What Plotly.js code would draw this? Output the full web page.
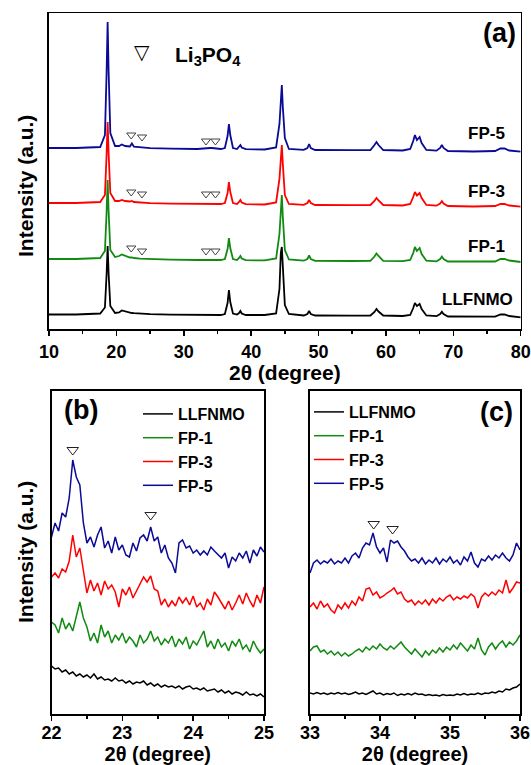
<!DOCTYPE html>
<html>
<head>
<meta charset="utf-8">
<script src="https://cdn.plot.ly/plotly-3.0.1.min.js"></script>
<style>html,body{margin:0;padding:0;background:#fff;}#chart{width:531px;height:765px;}</style>
</head>
<body>
<div id="chart"></div>
<script>
// ---------- Panel (a): full patterns, 2theta 10-80 (offset intensities, a.u.) ----------
const seriesNames = ["LLFNMO", "FP-1", "FP-3", "FP-5"];
const seriesColors = ["#000000", "#118a11", "#ff0000", "#0a0a96"];

const xA = [10, 14, 17.6, 18.3, 18.55, 18.7, 18.85, 19.1, 19.8, 20.4, 20.8, 21.3, 22.0, 22.3, 22.6, 23.5, 25, 28, 32, 33.9,
  34.2, 35.5, 36.1, 36.5, 36.7, 36.9, 37.3, 37.9, 38.2, 38.4, 38.6, 39.2, 42, 43.7, 44.2, 44.4, 44.55, 44.7, 45.0, 45.6,
  47.8, 48.35, 48.6, 48.85, 49.5, 55, 57.7, 58.3, 58.6, 58.9, 59.6, 62.5, 63.6, 64.05, 64.3, 64.6, 65.0, 65.3, 66.0, 67.5,
  68.05, 68.3, 68.55, 69.2, 73, 76.2, 77.0, 77.6, 78.3, 80];

const yA_LLFNMO = [16.5, 16.5, 17.5, 23.5, 57, 85, 57, 25, 18, 18.5, 20.5, 19.5, 18.5, 18, 17.8, 17.3, 16.8, 16.3, 16, 16,
  16, 16, 17, 28, 41, 29, 17.5, 16.5, 18, 20, 17.5, 16, 16, 17.5, 42, 78, 84, 62, 26, 17,
  15.5, 17, 20, 17, 15.5, 15.3, 15.5, 19, 22, 19.5, 15.5, 15, 16, 23, 28, 25, 27, 22, 15.5, 14.8,
  17, 19.3, 17, 14.5, 14, 14.3, 16.5, 16.5, 15, 13.7];

const yA_FP1 = [72, 72, 73, 80, 119, 151, 119, 81, 74, 75, 76.5, 75, 73.5, 73.5, 73, 72.3, 71.8, 71.3, 71, 71.3,
  71.2, 71, 72, 82, 93, 83, 72, 71, 73, 75, 72.5, 70.8, 70.6, 72.5, 97, 128, 136, 114, 81, 71.5,
  70.3, 72, 75.5, 72, 70.2, 70, 70.2, 74.5, 77.5, 75, 70.2, 69.8, 71, 78, 84, 80, 83, 77, 70.3, 69.6,
  72, 74.5, 72, 69.5, 69.2, 69.5, 72, 72, 70.5, 69];

const yA_FP3 = [128, 128, 129, 136, 177, 209, 177, 138, 130, 130, 131, 130, 129.5, 130, 129, 128.3, 127.8, 127.3, 127, 127.5,
  127.3, 127, 128, 138, 149, 139, 128, 127, 129, 131, 128.5, 126.8, 126.5, 128.5, 152, 178, 186, 167, 136, 127,
  126.2, 128, 131, 128, 126, 125.8, 126, 130, 133, 130.5, 126, 125.5, 127, 134, 139, 135.5, 138, 133, 126, 125.3,
  127.5, 130, 127.5, 125, 124.5, 125, 127, 127, 125.5, 124.3];

const yA_FP5 = [183, 183, 184, 196, 259, 309, 259, 198, 185, 185, 186.5, 185, 184.5, 187.5, 184.3, 183.5, 182.8, 182.3, 182, 183,
  183, 182, 183, 195, 207, 196, 183, 182, 184, 186, 183.5, 181.8, 181.5, 183.5, 207, 238, 246, 224, 193, 182,
  181.2, 183, 187, 183, 181, 180.8, 181, 186, 189, 186, 181, 180.5, 182, 190, 196, 191, 194, 188, 181, 180.3,
  183, 186, 183, 180, 179.5, 180, 182.5, 182.5, 180.5, 179.3];

// Li3PO4 marks in panel (a)
const triA_x = [22.2, 23.8, 33.3, 34.7];
const triA_FP1 = [83, 80, 80, 80];
const triA_FP3 = [139, 137, 137, 137];
const triA_FP5 = [196, 194, 190, 190];

// ---------- Panel (b): 2theta 22-25 ----------
const xB = [22.00, 22.05, 22.10, 22.15, 22.20, 22.25, 22.30, 22.35, 22.40, 22.45, 22.50, 22.55, 22.60, 22.65, 22.70, 22.75,
  22.80, 22.85, 22.90, 22.95, 23.00, 23.05, 23.10, 23.15, 23.20, 23.25, 23.30, 23.35, 23.40, 23.45, 23.50, 23.55,
  23.60, 23.65, 23.70, 23.75, 23.80, 23.85, 23.90, 23.95, 24.00, 24.05, 24.10, 24.15, 24.20, 24.25, 24.30, 24.35,
  24.40, 24.45, 24.50, 24.55, 24.60, 24.65, 24.70, 24.75, 24.80, 24.85, 24.90, 24.95, 25.00];

const yB_LLFNMO = [47, 44, 45, 41, 43, 39, 41, 37, 39, 36, 38, 35, 39, 34, 36, 33, 34, 32, 35, 32, 33, 30, 32, 29, 31, 30,
  32, 28, 30, 27, 29, 26, 28, 26, 27, 25, 27, 24, 26, 27, 24, 25, 23, 25, 22, 23, 24, 21, 23, 20, 22, 19, 21, 20, 18, 21,
  18, 19, 17, 19, 16];
const yB_FP1 = [91, 88, 80, 95, 84, 90, 82, 98, 111, 95, 86, 72, 80, 70, 88, 76, 82, 70, 78, 73, 80, 70, 76, 72, 66, 78,
  70, 74, 82, 72, 76, 68, 74, 70, 77, 66, 74, 69, 76, 64, 72, 68, 75, 82, 66, 72, 64, 74, 66, 70, 62, 72, 67, 74, 64, 68,
  61, 72, 65, 60, 64];
const yB_FP3 = [136, 140, 135, 144, 141, 152, 178, 156, 165, 140, 120, 133, 122, 130, 118, 132, 124, 128, 121, 106, 124,
  118, 126, 115, 122, 130, 136, 131, 137, 124, 122, 108, 114, 106, 112, 107, 116, 110, 115, 108, 117, 106, 110, 103,
  114, 108, 121, 116, 110, 104, 112, 103, 110, 118, 109, 120, 112, 106, 118, 110, 126];
const yB_FP5 = [176, 190, 182, 200, 196, 215, 253, 236, 228, 190, 170, 176, 166, 178, 186, 165, 172, 160, 176, 163, 168,
  158, 156, 170, 162, 175, 178, 172, 186, 172, 176, 160, 168, 155, 150, 140, 170, 173, 165, 167, 160, 163, 158, 162,
  158, 166, 162, 158, 155, 160, 145, 156, 152, 160, 155, 162, 150, 163, 157, 166, 161];
const triB_x = [22.3, 23.4];
const triB_y = [263, 198];

// ---------- Panel (c): 2theta 33-36 ----------
const xC = [33.00, 33.05, 33.10, 33.15, 33.20, 33.25, 33.30, 33.35, 33.40, 33.45, 33.50, 33.55, 33.60, 33.65, 33.70, 33.75,
  33.80, 33.85, 33.90, 33.95, 34.00, 34.05, 34.10, 34.15, 34.20, 34.25, 34.30, 34.35, 34.40, 34.45, 34.50, 34.55,
  34.60, 34.65, 34.70, 34.75, 34.80, 34.85, 34.90, 34.95, 35.00, 35.05, 35.10, 35.15, 35.20, 35.25, 35.30, 35.35,
  35.40, 35.45, 35.50, 35.55, 35.60, 35.65, 35.70, 35.75, 35.80, 35.85, 35.90, 35.95, 36.00];

const yC_LLFNMO = [20, 19, 20.5, 19, 20, 18.5, 20, 19, 20.5, 19, 20, 18.5, 19.5, 21, 19, 20, 18.5, 20, 22, 19, 20, 18, 19.5,
  18.5, 20, 17.5, 19, 18, 19.5, 18, 20, 18.5, 19, 17.5, 18.5, 17.5, 18, 17, 18.5, 17.5, 18, 17.5, 19, 18, 19.5, 18, 19,
  18.5, 20, 18.5, 20, 19.5, 21, 20, 22, 21, 24, 23, 25, 26, 29];
const yC_FP1 = [62, 66, 67, 61, 63, 59, 62, 58, 61, 57, 60, 57, 59, 62, 64, 61, 66, 63, 67, 64, 69, 65, 63, 67, 64, 68, 71,
  66, 62, 59, 64, 60, 56, 62, 58, 63, 60, 65, 61, 66, 63, 68, 64, 70, 66, 62, 68, 64, 75, 63, 58, 66, 70, 64, 69, 72, 66,
  71, 68, 72, 78];
const yC_FP3 = [106, 110, 104, 112, 106, 109, 103, 100, 108, 104, 110, 105, 112, 108, 116, 112, 124, 125, 118, 121, 115,
  117, 120, 122, 125, 119, 121, 114, 111, 113, 108, 112, 109, 113, 108, 114, 110, 115, 112, 116, 118, 113, 116, 114,
  117, 115, 119, 116, 105, 116, 120, 117, 121, 118, 123, 120, 133, 120, 125, 131, 130];
const yC_FP5 = [140, 150, 153, 149, 152, 150, 154, 149, 152, 150, 155, 150, 157, 160, 155, 165, 170, 168, 180, 166, 160,
  165, 151, 173, 170, 172, 166, 162, 156, 152, 154, 150, 155, 149, 153, 150, 155, 149, 154, 151, 156, 150, 153, 148,
  156, 152, 161, 150, 146, 154, 152, 157, 153, 158, 155, 160, 155, 152, 158, 170, 163];
const triC_x = [33.91, 34.18];
const triC_y = [189, 184];

// ---------- build ----------
const W = 531, H = 765;
const px = v => v / W;
const py = v => 1 - v / H;
const FONT = "Liberation Sans, Arial, Helvetica, sans-serif";

const traces = [];
const yAList = [yA_LLFNMO, yA_FP1, yA_FP3, yA_FP5];
yAList.forEach((ys, i) => traces.push({
  x: xA, y: ys, type: "scatter", mode: "lines", xaxis: "x", yaxis: "y",
  line: {color: seriesColors[i], width: 1.8}, showlegend: false, hoverinfo: "skip"
}));
[triA_FP1, triA_FP3, triA_FP5].forEach(ys => traces.push({
  x: triA_x, y: ys, type: "scatter", mode: "markers", xaxis: "x", yaxis: "y",
  marker: {symbol: "triangle-down-open", size: 8, color: "#444", line: {width: 1, color: "#444"}},
  showlegend: false, hoverinfo: "skip"
}));
const yBList = [yB_LLFNMO, yB_FP1, yB_FP3, yB_FP5];
yBList.forEach((ys, i) => traces.push({
  x: xB, y: ys, type: "scatter", mode: "lines", xaxis: "x2", yaxis: "y2", name: seriesNames[i],
  line: {color: seriesColors[i], width: 1.5}, legend: "legend", showlegend: true, hoverinfo: "skip"
}));
traces.push({x: triB_x, y: triB_y, type: "scatter", mode: "markers", xaxis: "x2", yaxis: "y2",
  marker: {symbol: "triangle-down-open", size: 10, color: "#222", line: {width: 1, color: "#222"}},
  showlegend: false, hoverinfo: "skip"});
const yCList = [yC_LLFNMO, yC_FP1, yC_FP3, yC_FP5];
yCList.forEach((ys, i) => traces.push({
  x: xC, y: ys, type: "scatter", mode: "lines", xaxis: "x3", yaxis: "y3", name: seriesNames[i],
  line: {color: seriesColors[i], width: 1.5}, legend: "legend2", showlegend: true, hoverinfo: "skip"
}));
traces.push({x: triC_x, y: triC_y, type: "scatter", mode: "markers", xaxis: "x3", yaxis: "y3",
  marker: {symbol: "triangle-down-open", size: 10, color: "#222", line: {width: 1, color: "#222"}},
  showlegend: false, hoverinfo: "skip"});

const tickFont = {family: FONT, size: 18, color: "#000", weight: "bold"};
function xAx(domain, range, dtick, minorD, title, standoff, tsize, labShift) {
  return {domain: domain, range: range, dtick: dtick, tick0: range[0], showline: true, mirror: true,
    linecolor: "#000", linewidth: 1.6, ticks: "outside", ticklen: 5, tickwidth: 1.5, tickcolor: "#000",
    minor: {ticks: "outside", ticklen: 3, tickwidth: 1.5, tickcolor: "#000", dtick: minorD},
    showgrid: false, zeroline: false, tickfont: tickFont, fixedrange: true, ticklabelstandoff: labShift,
    title: {text: title, font: {family: FONT, size: tsize, color: "#000", weight: "bold"}, standoff: standoff},
    automargin: false};
}
function yAx(domain, range, anchor) {
  return {domain: domain, range: range, showline: true, mirror: true, linecolor: "#000", linewidth: 1.6,
    ticks: "", showticklabels: false, showgrid: false, zeroline: false, anchor: anchor, fixedrange: true};
}

const bold = (s, size, x, y, extra) => Object.assign({
  text: s, x: px(x), y: py(y), xref: "paper", yref: "paper", showarrow: false,
  xanchor: "center", yanchor: "middle", font: {family: FONT, size: size, color: "#000", weight: "bold"}
}, extra || {});

const annotations = [
  bold("Intensity (a.u.)", 21, 25, 186, {textangle: -90}),
  bold("Intensity (a.u.)", 21, 25, 552, {textangle: -90}),
  bold("(a)", 27, 499, 33),
  bold("(b)", 27, 81, 410),
  bold("(c)", 27, 496, 412),
  bold("FP-5", 17, 486, 133),
  bold("FP-3", 17, 486, 191),
  bold("FP-1", 17, 486, 247),
  bold("LLFNMO", 17, 477, 300),
  Object.assign(bold("▽", 20, 142, 52), {font: {family: "DejaVu Sans", size: 20, color: "#000"}}),
  bold("Li<sub>3</sub>PO<sub>4</sub>", 21, 173, 56, {xanchor: "left"})
];

const legendFont = {family: FONT, size: 16, color: "#000", weight: "bold"};
const layout = {
  width: W, height: H, margin: {l: 0, r: 0, t: 0, b: 0},
  paper_bgcolor: "#fff", plot_bgcolor: "#fff", showlegend: true,
  xaxis: xAx([px(49), px(520.7)], [10, 80], 10, 5, "2θ (degree)", 2, 21, 0),
  yaxis: yAx([py(329.3), py(13.3)], [1.7, 317.7], "x"),
  xaxis2: Object.assign(xAx([px(51.5), px(264)], [22, 25], 1, 0.5, "2θ (degree)", 2, 20, -3), {anchor: "y2"}),
  yaxis2: yAx([py(714), py(390.5)], [-1, 322.5], "x2"),
  xaxis3: Object.assign(xAx([px(310), px(520)], [33, 36], 1, 0.5, "2θ (degree)", 2, 20, -3), {anchor: "y3"}),
  yaxis3: yAx([py(714), py(390.5)], [-1, 322.5], "x3"),
  legend: {x: px(138), y: py(397), xanchor: "left", yanchor: "top", bgcolor: "rgba(0,0,0,0)",
    font: legendFont, tracegroupgap: 0, itemwidth: 30, borderwidth: 0},
  legend2: {x: px(309), y: py(395), xanchor: "left", yanchor: "top", bgcolor: "rgba(0,0,0,0)",
    font: legendFont, tracegroupgap: 0, itemwidth: 30, borderwidth: 0},
  annotations: annotations
};

Plotly.newPlot("chart", traces, layout, {staticPlot: true, displayModeBar: false});
</script>
</body>
</html>
